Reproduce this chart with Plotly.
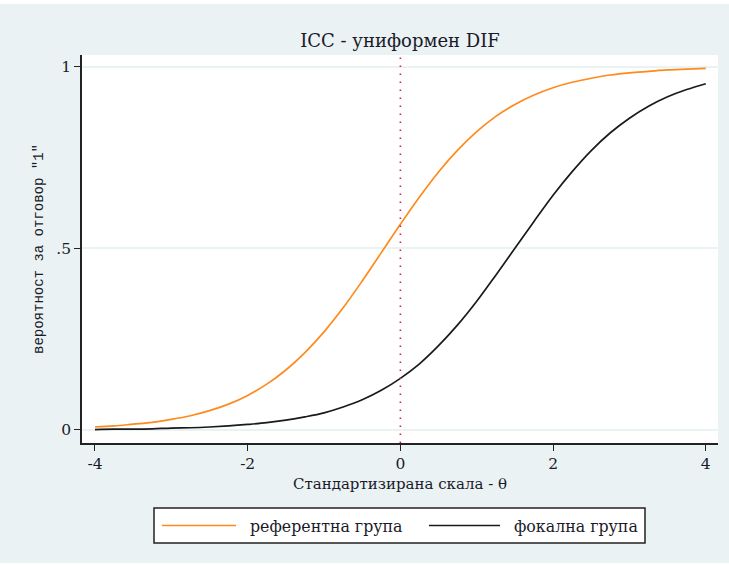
import plotly.graph_objects as go

# Ability scale (theta) and probability of answering "1" for each group
theta = [-4.0, -3.75, -3.5, -3.25, -3.0, -2.75, -2.5, -2.25, -2.0, -1.75, -1.5,
         -1.25, -1.0, -0.75, -0.5, -0.25, 0.0, 0.25, 0.5, 0.75, 1.0, 1.25, 1.5,
         1.75, 2.0, 2.25, 2.5, 2.75, 3.0, 3.25, 3.5, 3.75, 4.0]

p_reference = [0.008, 0.011, 0.016, 0.021, 0.029, 0.039, 0.053, 0.071, 0.095,
               0.126, 0.165, 0.213, 0.270, 0.336, 0.410, 0.488, 0.566, 0.641,
               0.710, 0.770, 0.821, 0.863, 0.896, 0.922, 0.942, 0.957, 0.968,
               0.977, 0.983, 0.987, 0.991, 0.993, 0.995]

p_focal = [0.001, 0.002, 0.002, 0.003, 0.005, 0.006, 0.008, 0.011, 0.015,
           0.020, 0.027, 0.036, 0.047, 0.063, 0.083, 0.109, 0.142, 0.182,
           0.232, 0.289, 0.354, 0.426, 0.500, 0.574, 0.646, 0.711, 0.769,
           0.818, 0.858, 0.891, 0.917, 0.937, 0.953]

series_names = ["референтна група", "фокална група"]
series_colors = ["#FF8A1C", "#1A1A1A"]

x_ticks = [-4, -2, 0, 2, 4]
x_tick_text = ["-4", "-2", "0", "2", "4"]
y_ticks = [0, 0.5, 1]
y_tick_text = ["0", ".5", "1"]

W, H = 729, 565
L, R, T, B = 82, 11, 55, 122
PW, PH = W - L - R, H - T - B

BG = "#EAF2F3"
SERIF = "DejaVu Serif"
TXT = "#1A1A2A"


def px(x):
    return (x - L) / PW


def py(y):
    return (H - B - y) / PH


fig = go.Figure()
for name, ys, col in zip(series_names, [p_reference, p_focal], series_colors):
    fig.add_trace(go.Scatter(x=theta, y=ys, mode="lines", name=name,
                             line=dict(color=col, width=1.7, shape="spline"),
                             showlegend=False))

# Reference line at theta = 0
fig.add_vline(x=0, line=dict(color="#D8204E", width=1.6, dash="1.5px,6.5px"))

shapes = []
# thin white frame around the graph region
for x0, x1, y0, y1 in [(0, 5, 0, H), (0, W, 0, 4), (0, W, 563, H)]:
    shapes.append(dict(type="rect", xref="paper", yref="paper",
                       x0=px(x0), x1=px(x1), y0=py(y1), y1=py(y0),
                       fillcolor="white", line=dict(width=0), layer="below"))

# legend box
shapes.append(dict(type="rect", xref="paper", yref="paper",
                   x0=px(154), x1=px(645), y0=py(543), y1=py(508),
                   fillcolor="white", line=dict(color="#222222", width=1.5)))
legend_items = [(162, 236, 248), (429, 500, 512)]
annotations = []
for (lx0, lx1, tx), name, col in zip(legend_items, series_names, series_colors):
    shapes.append(dict(type="line", xref="paper", yref="paper",
                       x0=px(lx0), x1=px(lx1), y0=py(525.5), y1=py(525.5),
                       line=dict(color=col, width=1.7)))
    annotations.append(dict(text=name, xref="paper", yref="paper",
                            x=px(tx), y=py(526), xanchor="left", yanchor="middle",
                            showarrow=False,
                            font=dict(family=SERIF, size=15.8, color=TXT)))

fig.update_layout(
    width=W, height=H,
    margin=dict(l=L, r=R, t=T, b=B),
    paper_bgcolor=BG, plot_bgcolor="white",
    title=dict(text="ICC - униформен DIF", x=0.5, xref="paper",
               y=1 - 41 / H, yref="container", yanchor="middle",
               font=dict(family=SERIF, size=18, color=TXT)),
    shapes=shapes, annotations=annotations,
    xaxis=dict(range=[-4.17, 4.16], tickvals=x_ticks, ticktext=x_tick_text,
               showgrid=False, zeroline=False,
               showline=True, linecolor="#222222", linewidth=1.5,
               ticks="outside", ticklen=6, tickwidth=1.3, tickcolor="#222222",
               tickfont=dict(family=SERIF, size=15.5, color=TXT),
               title=dict(text="Стандартизирана скала - θ", standoff=6,
                          font=dict(family=SERIF, size=15, color=TXT))),
    yaxis=dict(range=[-0.036, 1.032], tickvals=y_ticks, ticktext=y_tick_text,
               showgrid=True, gridcolor=BG, gridwidth=1.5, zeroline=False,
               showline=True, linecolor="#222222", linewidth=1.5,
               ticks="outside", ticklen=6, tickwidth=1.3, tickcolor="#222222",
               tickfont=dict(family=SERIF, size=15.5, color=TXT),
               title=dict(text='вероятност за отговор "1"', standoff=9,
                          font=dict(family="Liberation Mono", size=14,
                                    color=TXT))),
)

fig.write_html("out.html")
